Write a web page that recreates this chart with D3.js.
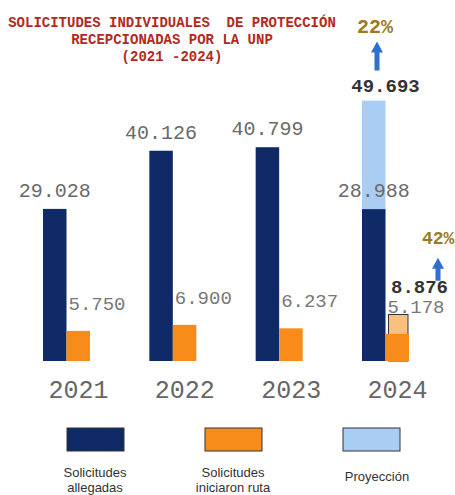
<!DOCTYPE html>
<meta charset="utf-8">
<title>Solicitudes UNP</title>
<style>
body {
    margin: 0;
    background: #fff;
}
svg {
    position: absolute;
    top: 0;
    left: 0;
}
.mono {
    font-family: "Liberation Mono", "Courier New", monospace;
    white-space: pre;
}
.legend text {
    font-family: "Liberation Sans", Arial, sans-serif;
    font-size: 13px;
    fill: #333;
}
</style>
<body>
<script src="https://d3js.org/d3.v7.min.js"></script>
<script>

var width = 455,
    height = 495;

// data
var years = ["2021", "2022", "2023", "2024"];
var allegadas = [29028, 40126, 40799, 28988];   // solicitudes allegadas
var iniciaron = [5750, 6900, 6237, 5178];       // solicitudes iniciaron ruta
var proyAllegadas = 49693;                      // proyeccion 2024
var proyIniciaron = 8876;
var growthLabels = ["22%", "42%"];
var titleLines = ["SOLICITUDES INDIVIDUALES  DE PROTECCIÓN", "RECEPCIONADAS POR LA UNP", "(2021 -2024)"];
var legendItems = [
  { key: "allegadas", lines: ["Solicitudes", "allegadas"] },
  { key: "iniciaron", lines: ["Solicitudes", "iniciaron ruta"] },
  { key: "proyeccion", lines: ["Proyección"] }
];

var colors = {
  allegadas: "#0f2a66",
  iniciaron: "#f88c1a",
  proyeccion: "#a9cdf3",
  proyIniciaron: "#fcc07e"
};

// spanish number format: 29.028
var fmt = d3.formatLocale({ decimal: ",", thousands: ".", grouping: [3], currency: ["$", ""] }).format(",d");

var svg = d3.select("body").append("svg")
    .attr("width", width)
    .attr("height", height);

// scales
var x = d3.scaleBand()
    .domain(years)
    .range([43, 409])
    .paddingInner(0.558)
    .paddingOuter(0);

var xs = d3.scaleBand()
    .domain(["allegadas", "iniciaron"])
    .range([0, x.bandwidth()]);

var y = d3.scaleLinear()
    .domain([0, 50000])
    .range([361, 99]);

var data = years.map(function(yr, i) {
  return { year: yr, allegadas: allegadas[i], iniciaron: iniciaron[i] };
});

// title
svg.append("g").selectAll("text")
    .data(titleLines)
  .enter().append("text")
    .attr("class", "mono")
    .attr("x", 172)
    .attr("y", function(d, i) { return 27 + i * 17; })
    .attr("text-anchor", "middle")
    .style("font-size", "14px")
    .style("font-weight", "bold")
    .style("fill", "#b22a1e")
    .text(function(d) { return d; });

var last = data[data.length - 1];
var gx = x(last.year);

// projection bars (2024), behind the real ones
svg.append("rect")
    .attr("x", gx + xs("allegadas"))
    .attr("y", y(proyAllegadas))
    .attr("width", xs.bandwidth())
    .attr("height", y(last.allegadas) - y(proyAllegadas))
    .style("fill", colors.proyeccion);

svg.append("rect")
    .attr("x", gx + xs("iniciaron") + 3)
    .attr("y", y(proyIniciaron))
    .attr("width", xs.bandwidth() - 4)
    .attr("height", y(0) - y(proyIniciaron))
    .style("fill", colors.proyIniciaron)
    .style("stroke", "#333")
    .style("stroke-width", 1);

// bars
var groups = svg.append("g").selectAll("g")
    .data(data)
  .enter().append("g")
    .attr("transform", function(d) { return "translate(" + x(d.year) + ",0)"; });

groups.selectAll("rect")
    .data(function(d) { return ["allegadas", "iniciaron"].map(function(k) { return { key: k, value: d[k] }; }); })
  .enter().append("rect")
    .attr("x", function(d) { return xs(d.key); })
    .attr("y", function(d) { return y(d.value); })
    .attr("width", xs.bandwidth())
    .attr("height", function(d) { return y(0) - y(d.value); })
    .style("fill", function(d) { return colors[d.key]; });

// value labels
groups.append("text")
    .attr("class", "mono")
    .attr("x", xs("allegadas") + xs.bandwidth() / 2)
    .attr("y", function(d) { return y(d.allegadas) - 12; })
    .attr("text-anchor", "middle")
    .style("font-size", "20px")
    .style("fill", "#6a6a6a")
    .text(function(d) { return fmt(d.allegadas); });

groups.append("text")
    .attr("class", "mono")
    .attr("x", xs("iniciaron") + 2)
    .attr("y", function(d) { return y(d.iniciaron) - 21; })
    .style("font-size", "19px")
    .style("fill", "#777")
    .text(function(d) { return fmt(d.iniciaron); });

// year labels
groups.append("text")
    .attr("class", "mono")
    .attr("x", x.bandwidth() / 2 + 12)
    .attr("y", 398)
    .attr("text-anchor", "middle")
    .style("font-size", "25px")
    .style("fill", "#666")
    .text(function(d) { return d.year; });

// projection labels and growth arrows
function arrow(cx, y0, y1) {
  var hw = 6, head = 11, sw = 2.5;
  svg.append("path")
      .attr("d", "M" + (cx - sw) + "," + y1 + "V" + (y0 + head) + "H" + (cx - hw) +
                 "L" + cx + "," + y0 + "L" + (cx + hw) + "," + (y0 + head) +
                 "H" + (cx + sw) + "V" + y1 + "Z")
      .style("fill", "#2f6fd0");
}

var pA = y(proyAllegadas) - 9;
svg.append("text")
    .attr("class", "mono")
    .attr("x", gx + x.bandwidth() / 2)
    .attr("y", pA)
    .attr("text-anchor", "middle")
    .style("font-size", "19px")
    .style("font-weight", "bold")
    .style("fill", "#333")
    .text(fmt(proyAllegadas));
arrow(377, pA - 50, pA - 21);
svg.append("text")
    .attr("class", "mono")
    .attr("x", 375)
    .attr("y", pA - 59)
    .attr("text-anchor", "middle")
    .style("font-size", "20px")
    .style("font-weight", "bold")
    .style("fill", "#9a7a1e")
    .text(growthLabels[0]);

var pI = Math.min(y(proyIniciaron) - 8, y(last.iniciaron) - 21 - 20);
svg.append("text")
    .attr("class", "mono")
    .attr("x", gx + xs("iniciaron") + 34)
    .attr("y", pI)
    .attr("text-anchor", "middle")
    .style("font-size", "19px")
    .style("font-weight", "bold")
    .style("fill", "#333")
    .text(fmt(proyIniciaron));
arrow(438, pI - 35, pI - 12);
svg.append("text")
    .attr("class", "mono")
    .attr("x", 422)
    .attr("y", pI - 49)
    .style("font-size", "18px")
    .style("font-weight", "bold")
    .style("fill", "#9a7a1e")
    .text(growthLabels[1]);

// legend
var legendX = d3.scalePoint()
    .domain(legendItems.map(function(d) { return d.key; }))
    .range([95, 371]);

var legend = svg.append("g")
    .attr("class", "legend")
    .selectAll("g")
    .data(legendItems)
  .enter().append("g")
    .attr("transform", function(d) { return "translate(" + legendX(d.key) + ",0)"; });

legend.append("rect")
    .attr("x", -28)
    .attr("y", 428)
    .attr("width", 57)
    .attr("height", 23)
    .style("fill", function(d) { return colors[d.key]; })
    .style("stroke", "#333")
    .style("stroke-width", 1);

legend.each(function(d) {
  var g = d3.select(this);
  var y0 = d.lines.length > 1 ? 477 : 481;
  d.lines.forEach(function(line, i) {
    g.append("text")
        .attr("x", d.key === "proyeccion" ? 6 : 0)
        .attr("y", y0 + i * 15)
        .attr("text-anchor", "middle")
        .text(line);
  });
});

</script>
</body>
